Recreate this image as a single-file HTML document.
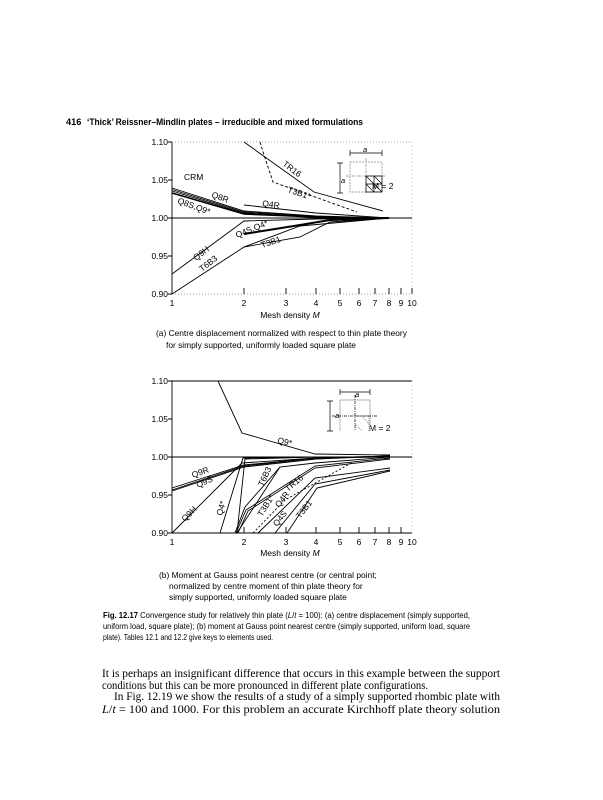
<!DOCTYPE html>
<html><head><meta charset="utf-8"><style>
html,body{margin:0;padding:0;background:#fff;width:603px;height:800px;overflow:hidden}
svg{display:block}
.s{font-family:"Liberation Sans",sans-serif}
.r{font-family:"Liberation Serif",serif}
</style></head><body>
<svg width="603" height="800" viewBox="0 0 603 800" xmlns="http://www.w3.org/2000/svg">
<rect width="603" height="800" fill="#fff"/>
<text x="66" y="125" class="s" font-size="9.2" font-weight="bold">416</text>
<text x="87" y="125" class="s" font-size="9.2" font-weight="bold" textLength="276" lengthAdjust="spacingAndGlyphs">‘Thick’ Reissner–Mindlin plates – irreducible and mixed formulations</text>

<!-- TOP CHART -->
<g fill="none" stroke="#000" stroke-width="0.9">
<line x1="172" y1="142" x2="172" y2="294"/>
<line x1="172" y1="142" x2="412" y2="142" stroke="#aaa" stroke-dasharray="1,2"/>
<line x1="412" y1="142" x2="412" y2="294" stroke="#bbb" stroke-dasharray="1,3"/>
<line x1="172" y1="294" x2="412" y2="294" stroke="#999" stroke-dasharray="1,2"/>
<line x1="172" y1="218" x2="412" y2="218" stroke-width="1.1"/>
<path d="M168 142h4M168 180h4M168 218h4M168 256h4M168 294h4"/>
<path d="M244 288v6M286 288v6M316 288v6M340 288v6M359 288v6M375 288v6M389 288v6M401 288v6M412 288v6"/>
<polyline points="244,142 314,192 383,211"/>
<polyline points="260,142 264,155 273,182 357,212" stroke-dasharray="3,2"/>
<polyline points="172,188 244,211 316,216 389,218"/>
<polyline points="172,189.5 244,212 316,216.5 389,218"/>
<polyline points="172,191 244,213 316,217 389,218"/>
<polyline points="172,193 244,214 316,217 389,218" stroke-width="1.6"/>
<polyline points="244,205 316,213 389,218"/>
<polyline points="244,234 300,225 330,220 389,218" stroke-width="2"/>
<polyline points="244,247 300,237 330,222 389,218"/>
<polyline points="172,274 244,221 316,219 389,218"/>
<polyline points="172,294 244,247 300,226 389,218"/>
</g>
<g class="s" font-size="8.5">
<text x="168" y="145" text-anchor="end">1.10</text>
<text x="168" y="183" text-anchor="end">1.05</text>
<text x="168" y="221" text-anchor="end">1.00</text>
<text x="168" y="259" text-anchor="end">0.95</text>
<text x="168" y="297" text-anchor="end">0.90</text>
<text x="172" y="306" text-anchor="middle">1</text><text x="244" y="306" text-anchor="middle">2</text><text x="286" y="306" text-anchor="middle">3</text><text x="316" y="306" text-anchor="middle">4</text><text x="340" y="306" text-anchor="middle">5</text><text x="359" y="306" text-anchor="middle">6</text><text x="375" y="306" text-anchor="middle">7</text><text x="389" y="306" text-anchor="middle">8</text><text x="401" y="306" text-anchor="middle">9</text><text x="412" y="306" text-anchor="middle">10</text>
<text x="290" y="318" text-anchor="middle">Mesh density <tspan font-style="italic">M</tspan></text>
<text x="184" y="180">CRM</text>
<text x="211" y="197" transform="rotate(20 211 197)">Q8R</text>
<text x="177" y="203" transform="rotate(20 177 203)">Q8S,Q9*</text>
<text x="262" y="206" transform="rotate(8 262 206)">Q4R</text>
<text x="237" y="238" transform="rotate(-22 237 238)">Q4S,Q4*</text>
<text x="262" y="248" transform="rotate(-18 262 248)">T3B1</text>
<text x="196" y="261" transform="rotate(-38 196 261)">Q9H</text>
<text x="202" y="272" transform="rotate(-38 202 272)">T6B3</text>
<text x="282" y="165" transform="rotate(37 282 165)">TR16</text>
<text x="287" y="192" transform="rotate(18 287 192)">T3B1*</text>
<text x="341" y="183" font-style="italic" font-size="7.5">a</text>
<text x="372" y="189">M = 2</text>
<text x="363" y="152" font-style="italic" font-size="7.5">a</text>
</g>
<g fill="none" stroke="#000" stroke-width="0.7">
<path d="M350 153h32M350 150v6M382 150v6M340 163v30M337 163h6M337 193h6"/>
<rect x="350" y="162" width="32" height="30" stroke="#888" stroke-dasharray="2,1"/>
<path d="M366 158v36M346 176h40" stroke="#888" stroke-dasharray="3,1,1,1"/>
<path d="M366 176h16v16h-16zM374 176v16M366 184h16M366 176l16 16M374 176l8 8M366 184l8 8"/>
</g>
<g class="s" font-size="8.4">
<text x="156" y="336">(a) Centre displacement normalized with respect to thin plate theory</text>
<text x="166" y="348">for simply supported, uniformly loaded square plate</text>
</g>

<!-- BOTTOM CHART -->
<g fill="none" stroke="#000" stroke-width="0.9">
<line x1="172" y1="381" x2="172" y2="533"/>
<line x1="172" y1="381" x2="412" y2="381"/>
<line x1="412" y1="381" x2="412" y2="533" stroke="#bbb" stroke-dasharray="1,3"/>
<line x1="172" y1="533" x2="412" y2="533"/>
<line x1="172" y1="457" x2="412" y2="457" stroke-width="1.1"/>
<path d="M168 381h4M168 419h4M168 457h4M168 495h4M168 533h4"/>
<path d="M244 527v6M286 527v6M316 527v6M340 527v6M359 527v6M375 527v6M389 527v6M401 527v6"/>
<polyline points="218,381 242,433 315,454 390,455"/>
<polyline points="172,488 244,465 316,458 390,456"/>
<polyline points="172,490 244,466 316,458 390,456"/>
<polyline points="172,491 244,467 316,459 390,456"/>
<polyline points="172,533 242,463 316,458 389,457"/>
<polyline points="237,533 245,459 316,457 389,457"/>
<polyline points="220,533 243,458 316,457 389,457"/>
<polyline points="280,467 237,533"/>
<polyline points="235,533 245,507 280,467 315,463 390,457"/>
<polyline points="236,533 246,510 315,466 390,458"/>
<polyline points="238,533 248,511 315,468 390,459"/>
<polyline points="253,533 285,500 353,462" stroke-dasharray="2,2"/>
<polyline points="258,533 315,478 390,468"/>
<polyline points="275,533 315,484 390,470"/>
<polyline points="287,533 317,488 390,471"/>
</g>
<g class="s" font-size="8.5">
<text x="168" y="384" text-anchor="end">1.10</text>
<text x="168" y="422" text-anchor="end">1.05</text>
<text x="168" y="460" text-anchor="end">1.00</text>
<text x="168" y="498" text-anchor="end">0.95</text>
<text x="168" y="536" text-anchor="end">0.90</text>
<text x="172" y="545" text-anchor="middle">1</text><text x="244" y="545" text-anchor="middle">2</text><text x="286" y="545" text-anchor="middle">3</text><text x="316" y="545" text-anchor="middle">4</text><text x="340" y="545" text-anchor="middle">5</text><text x="359" y="545" text-anchor="middle">6</text><text x="375" y="545" text-anchor="middle">7</text><text x="389" y="545" text-anchor="middle">8</text><text x="401" y="545" text-anchor="middle">9</text><text x="412" y="545" text-anchor="middle">10</text>
<text x="290" y="556" text-anchor="middle">Mesh density <tspan font-style="italic">M</tspan></text>
<text x="277" y="443" transform="rotate(12 277 443)">Q9*</text>
<text x="193" y="478" transform="rotate(-20 193 478)">Q9R</text>
<text x="198" y="488" transform="rotate(-25 198 488)">Q9S</text>
<text x="185" y="522" transform="rotate(-45 185 522)">Q9H</text>
<text x="222" y="516" transform="rotate(-75 222 516)">Q4*</text>
<text x="263" y="487" transform="rotate(-65 263 487)">T6B3</text>
<text x="262" y="517" transform="rotate(-58 262 517)">T3B1*</text>
<text x="279" y="508" transform="rotate(-52 279 508)">Q4R</text>
<text x="288" y="492" transform="rotate(-40 288 492)">TR16</text>
<text x="277" y="527" transform="rotate(-52 277 527)">Q4S</text>
<text x="300" y="519" transform="rotate(-52 300 519)">T3B1</text>
<text x="335" y="418" font-style="italic" font-size="7.5">a</text>
<text x="355" y="397" font-style="italic" font-size="7.5">a</text>
<text x="369" y="431">M = 2</text>
</g>
<g fill="none" stroke="#000" stroke-width="0.7">
<path d="M340 392h30M340 389v6M370 389v6M330 401v30M327 401h6M327 431h6"/>
<path d="M340 400h30v31M340 400v31" stroke="#999"/>
<path d="M355 395v36M332 416h46" stroke-dasharray="3,1,1,1"/>
<path d="M355 416h14v15M362 416l7 8M355 424l7 7" stroke="#666" stroke-dasharray="1,1"/>
</g>
<g class="s" font-size="8.4">
<text x="159" y="578">(b) Moment at Gauss point nearest centre (or central point;</text>
<text x="169" y="589">normalized by centre moment of thin plate theory for</text>
<text x="169" y="600">simply supported, uniformly loaded square plate</text>
</g>

<!-- Figure caption -->
<g class="s" font-size="8.6">
<text x="103" y="618" textLength="367" lengthAdjust="spacingAndGlyphs"><tspan font-weight="bold">Fig. 12.17</tspan>   Convergence study for relatively thin plate (<tspan font-style="italic">L</tspan>/<tspan font-style="italic">t</tspan> = 100): (a) centre displacement (simply supported,</text>
<text x="103" y="629" textLength="367" lengthAdjust="spacingAndGlyphs">uniform load, square plate); (b) moment at Gauss point nearest centre (simply supported, uniform load, square</text>
<text x="103" y="640" textLength="170" lengthAdjust="spacingAndGlyphs">plate). Tables 12.1 and 12.2 give keys to elements used.</text>
</g>
<g class="r" font-size="12">
<text x="102" y="677" textLength="398" lengthAdjust="spacingAndGlyphs">It is perhaps an insignificant difference that occurs in this example between the support</text>
<text x="102" y="689" textLength="326" lengthAdjust="spacingAndGlyphs">conditions but this can be more pronounced in different plate configurations.</text>
<text x="114" y="700" textLength="386" lengthAdjust="spacingAndGlyphs">In Fig. 12.19 we show the results of a study of a simply supported rhombic plate with</text>
<text x="102" y="713" textLength="398" lengthAdjust="spacingAndGlyphs"><tspan font-style="italic">L</tspan>/<tspan font-style="italic">t</tspan> = 100 and 1000.  For this problem an accurate Kirchhoff plate theory solution</text>
</g>
</svg>
</body></html>
